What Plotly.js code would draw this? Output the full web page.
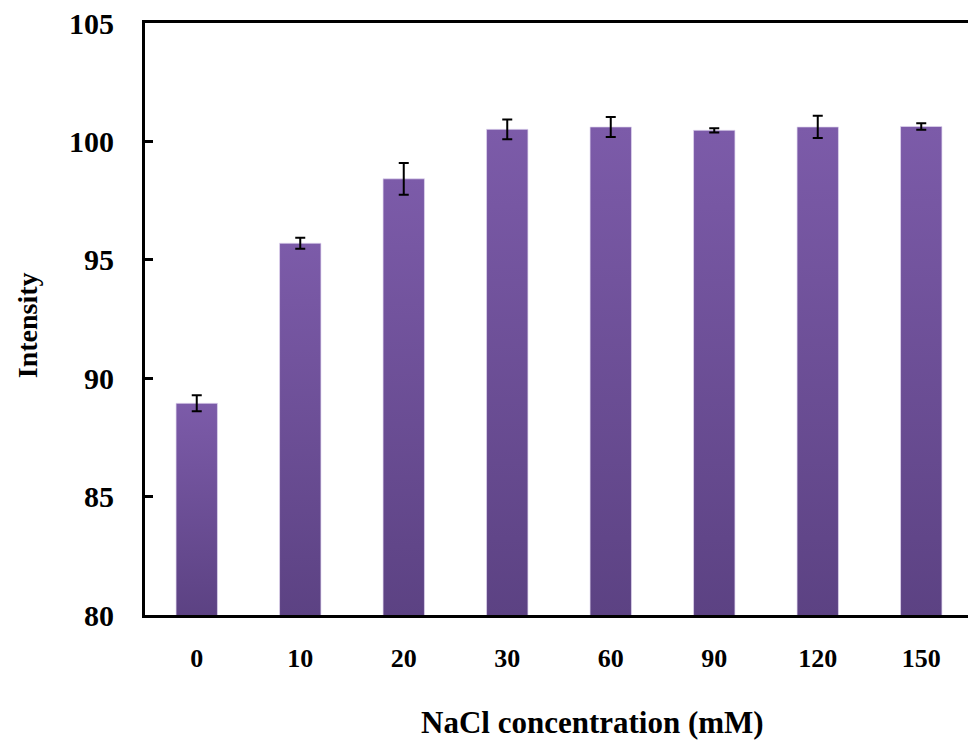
<!DOCTYPE html>
<html>
<head>
<meta charset="utf-8">
<script src="https://cdn.plot.ly/plotly-3.0.1.min.js"></script>
<style>
html, body { margin: 0; padding: 0; overflow: hidden; background: #fff; }
#chart { width: 975px; height: 740px; }
</style>
</head>
<body>
<div id="chart"></div>
<script>
const categories = ['0', '10', '20', '30', '60', '90', '120', '150'];
const intensity = [88.94, 95.70, 98.42, 100.51, 100.61, 100.47, 100.61, 100.63];
const errors = [0.34, 0.23, 0.67, 0.42, 0.42, 0.09, 0.47, 0.14];
const xTitle = 'NaCl concentration (mM)';
const yTitle = 'Intensity';

const fam = 'Liberation Serif, Times New Roman, serif';
function f(size) { return { family: fam, color: '#000', weight: 'bold', size: size }; }

const trace = {
  type: 'bar',
  x: categories,
  y: intensity,
  width: 0.4,
  marker: { color: '#6b4e95', line: { color: 'rgba(225,215,240,0.7)', width: 1 } },
  error_y: { type: 'data', array: errors, visible: true, color: '#000', thickness: 2, width: 5 },
  hoverinfo: 'x+y'
};

const layout = {
  width: 975,
  height: 740,
  margin: { l: 145, r: 2, t: 23, b: 125 },
  paper_bgcolor: '#fff',
  plot_bgcolor: '#fff',
  showlegend: false,
  xaxis: {
    type: 'category',
    showline: true, mirror: true, linecolor: '#000', linewidth: 3,
    ticks: '', showgrid: false, zeroline: false,
    tickfont: f(26),
    ticklabelstandoff: 18,
    automargin: false
  },
  yaxis: {
    range: [80, 105],
    tickvals: [80, 85, 90, 95, 100, 105],
    ticktext: ['80', '85', '90', '95', '100', '105'],
    showline: true, mirror: true, linecolor: '#000', linewidth: 3,
    ticks: 'inside', ticklen: 8, tickwidth: 3, tickcolor: '#000',
    showgrid: false, zeroline: false,
    tickfont: f(30),
    ticklabelstandoff: 22,
    automargin: false
  },
  annotations: [
    { text: xTitle, xref: 'paper', yref: 'paper', x: 0.54, y: -0.181, xanchor: 'center', yanchor: 'middle',
      showarrow: false, font: f(31) },
    { text: yTitle, xref: 'paper', yref: 'paper', x: -0.141, y: 0.49, xanchor: 'center', yanchor: 'middle',
      textangle: -90, showarrow: false, font: f(28) }
  ]
};

function applyGradient(gd) {
  const svg = gd.querySelector('svg.main-svg');
  if (!svg) return;
  const ns = 'http://www.w3.org/2000/svg';
  let defs = svg.querySelector('defs');
  if (!defs) { defs = document.createElementNS(ns, 'defs'); svg.insertBefore(defs, svg.firstChild); }
  const ya = gd._fullLayout.yaxis;
  const bottom = ya._length;
  gd.querySelectorAll('g.point path').forEach(function (p, i) {
    const id = 'barGrad' + i;
    let grad = svg.querySelector('#' + id);
    if (grad) grad.remove();
    const bb = p.getBBox();
    grad = document.createElementNS(ns, 'linearGradient');
    grad.setAttribute('id', id);
    grad.setAttribute('gradientUnits', 'userSpaceOnUse');
    grad.setAttribute('x1', '0'); grad.setAttribute('x2', '0');
    grad.setAttribute('y1', String(bb.y)); grad.setAttribute('y2', String(bottom));
    [['0', '#7c5ba9'], ['1', '#5c4283']].forEach(function (s) {
      const st = document.createElementNS(ns, 'stop');
      st.setAttribute('offset', s[0]); st.setAttribute('stop-color', s[1]);
      grad.appendChild(st);
    });
    defs.appendChild(grad);
    p.setAttribute('fill', 'url(#' + id + ')');
    p.style.setProperty('fill', 'url(#' + id + ')', 'important');
  });
}

const gd = document.getElementById('chart');
Plotly.newPlot(gd, [trace], layout, { displayModeBar: false, staticPlot: true });
applyGradient(gd);
gd.on && gd.on('plotly_afterplot', function () { applyGradient(gd); });
Promise.resolve().then(function () { applyGradient(gd); });
</script>
</body>
</html>
